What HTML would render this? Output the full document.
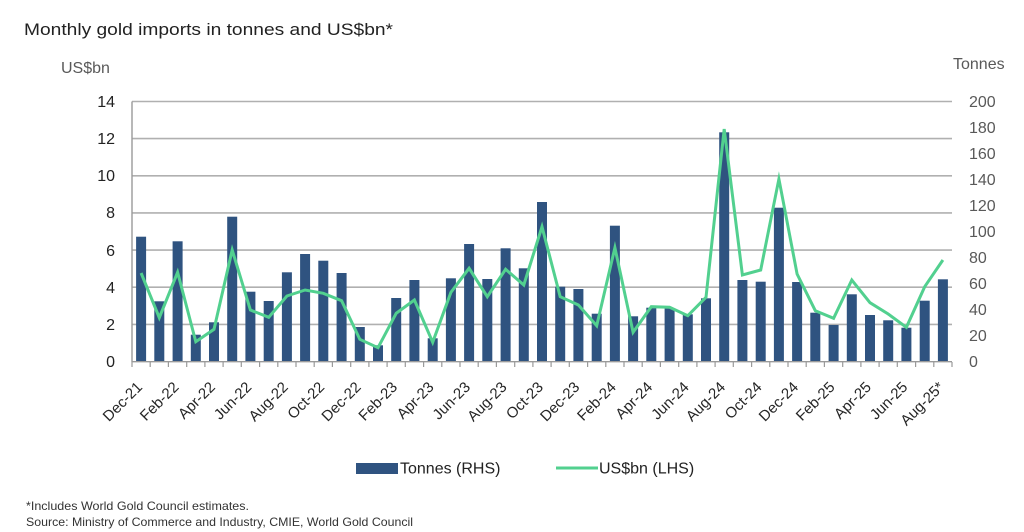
<!DOCTYPE html>
<html>
<head>
<meta charset="utf-8">
<style>
  html, body { margin:0; padding:0; background:#ffffff; }
  svg { display:block; font-family:"Liberation Sans", Arial, sans-serif; }
</style>
</head>
<body>
<svg width="1024" height="532" viewBox="0 0 1024 532" xmlns="http://www.w3.org/2000/svg">
  <rect x="0" y="0" width="1024" height="532" fill="#ffffff"/>

  <!-- Title -->
  <text x="24" y="35" font-size="17" fill="#222222" textLength="369" lengthAdjust="spacingAndGlyphs">Monthly gold imports in tonnes and US$bn*</text>

  <!-- Axis titles -->
  <text x="61" y="73" font-size="16" fill="#595959">US$bn</text>
  <text x="953" y="69" font-size="16" fill="#595959">Tonnes</text>

  <!-- Gridlines -->
  <g stroke="#b0b0b0" stroke-width="1.6">
    <line x1="132" y1="101.5" x2="952" y2="101.5"/>
    <line x1="132" y1="138.6" x2="952" y2="138.6"/>
    <line x1="132" y1="175.8" x2="952" y2="175.8"/>
    <line x1="132" y1="212.9" x2="952" y2="212.9"/>
    <line x1="132" y1="250.1" x2="952" y2="250.1"/>
    <line x1="132" y1="287.2" x2="952" y2="287.2"/>
    <line x1="132" y1="324.4" x2="952" y2="324.4"/>
  </g>

  <!-- Left tick labels -->
  <g font-size="16" fill="#222222" text-anchor="end">
    <text x="115" y="107">14</text>
    <text x="115" y="144">12</text>
    <text x="115" y="181">10</text>
    <text x="115" y="218">8</text>
    <text x="115" y="256">6</text>
    <text x="115" y="293">4</text>
    <text x="115" y="330">2</text>
    <text x="115" y="367">0</text>
  </g>

  <!-- Right tick labels -->
  <g font-size="16" fill="#595959">
    <text x="969" y="107">200</text>
    <text x="969" y="133">180</text>
    <text x="969" y="159">160</text>
    <text x="969" y="185">140</text>
    <text x="969" y="211">120</text>
    <text x="969" y="237">100</text>
    <text x="969" y="263">80</text>
    <text x="969" y="289">60</text>
    <text x="969" y="315">40</text>
    <text x="969" y="341">20</text>
    <text x="969" y="367">0</text>
  </g>

  <!-- Bars -->
  <g fill="#2f5380">
    <rect x="136.1" y="236.7" width="10" height="125.0"/>
    <rect x="154.3" y="301.3" width="10" height="60.4"/>
    <rect x="172.6" y="241.3" width="10" height="120.4"/>
    <rect x="190.8" y="334.7" width="10" height="27.0"/>
    <rect x="209.0" y="322.3" width="10" height="39.4"/>
    <rect x="227.2" y="216.7" width="10" height="145.0"/>
    <rect x="245.4" y="291.7" width="10" height="70.0"/>
    <rect x="263.7" y="301.0" width="10" height="60.7"/>
    <rect x="281.9" y="272.3" width="10" height="89.4"/>
    <rect x="300.1" y="254.0" width="10" height="107.7"/>
    <rect x="318.3" y="260.7" width="10" height="101.0"/>
    <rect x="336.6" y="273.0" width="10" height="88.7"/>
    <rect x="354.8" y="327.0" width="10" height="34.7"/>
    <rect x="373.0" y="345.3" width="10" height="16.4"/>
    <rect x="391.2" y="298.0" width="10" height="63.7"/>
    <rect x="409.4" y="280.0" width="10" height="81.7"/>
    <rect x="427.7" y="338.3" width="10" height="23.4"/>
    <rect x="445.9" y="278.3" width="10" height="83.4"/>
    <rect x="464.1" y="244.0" width="10" height="117.7"/>
    <rect x="482.3" y="279.0" width="10" height="82.7"/>
    <rect x="500.6" y="248.3" width="10" height="113.4"/>
    <rect x="518.8" y="268.3" width="10" height="93.4"/>
    <rect x="537.0" y="202.0" width="10" height="159.7"/>
    <rect x="555.2" y="286.7" width="10" height="75.0"/>
    <rect x="573.4" y="289.0" width="10" height="72.7"/>
    <rect x="591.7" y="313.7" width="10" height="48.0"/>
    <rect x="609.9" y="225.7" width="10" height="136.0"/>
    <rect x="628.1" y="316.3" width="10" height="45.4"/>
    <rect x="646.3" y="307.7" width="10" height="54.0"/>
    <rect x="664.6" y="308.3" width="10" height="53.4"/>
    <rect x="682.8" y="314.3" width="10" height="47.4"/>
    <rect x="701.0" y="298.3" width="10" height="63.4"/>
    <rect x="719.2" y="132.3" width="10" height="229.4"/>
    <rect x="737.4" y="280.0" width="10" height="81.7"/>
    <rect x="755.7" y="281.7" width="10" height="80.0"/>
    <rect x="773.9" y="207.7" width="10" height="154.0"/>
    <rect x="792.1" y="282.0" width="10" height="79.7"/>
    <rect x="810.3" y="312.7" width="10" height="49.0"/>
    <rect x="828.6" y="325.0" width="10" height="36.7"/>
    <rect x="846.8" y="294.3" width="10" height="67.4"/>
    <rect x="865.0" y="315.0" width="10" height="46.7"/>
    <rect x="883.2" y="320.3" width="10" height="41.4"/>
    <rect x="901.4" y="327.7" width="10" height="34.0"/>
    <rect x="919.7" y="300.7" width="10" height="61.0"/>
    <rect x="937.9" y="279.3" width="10" height="82.4"/>
  </g>

  <!-- Axes -->
  <g stroke="#9a9a9a" stroke-width="1.4" fill="none">
    <line x1="132" y1="101.5" x2="132" y2="362"/>
    <line x1="132" y1="361.7" x2="952" y2="361.7"/>
  </g>
  <!-- Tick marks -->
  <g stroke="#9a9a9a" stroke-width="1.2">
    <path d="M132,362v5 M150.2,362v5 M168.4,362v5 M186.7,362v5 M204.9,362v5 M223.1,362v5 M241.3,362v5 M259.6,362v5 M277.8,362v5 M296,362v5 M314.2,362v5 M332.4,362v5 M350.7,362v5 M368.9,362v5 M387.1,362v5 M405.3,362v5 M423.6,362v5 M441.8,362v5 M460,362v5 M478.2,362v5 M496.4,362v5 M514.7,362v5 M532.9,362v5 M551.1,362v5 M569.3,362v5 M587.6,362v5 M605.8,362v5 M624,362v5 M642.2,362v5 M660.4,362v5 M678.7,362v5 M696.9,362v5 M715.1,362v5 M733.3,362v5 M751.6,362v5 M769.8,362v5 M788,362v5 M806.2,362v5 M824.4,362v5 M842.7,362v5 M860.9,362v5 M879.1,362v5 M897.3,362v5 M915.6,362v5 M933.8,362v5 M952,362v5"/>
  </g>

  <!-- Line series -->
  <polyline fill="none" stroke="#52d08f" stroke-width="3" stroke-linejoin="miter" stroke-miterlimit="6"
    points="141.1,273 159.3,317.7 177.6,272.3 195.8,341.7 214,329.3 232.2,250 250.4,310 268.7,317.3 286.9,296 305.1,290 323.3,293.3 341.6,300.7 359.8,339.3 378,347.7 396.2,313.3 414.4,300 432.7,342.3 450.9,292.3 469.1,268.3 487.3,296.7 505.6,269.3 523.8,285 542,226.7 560.2,296.7 578.4,305 596.7,325.7 614.9,247.7 633.1,332.3 651.3,306.7 669.6,307.3 687.8,315.7 706,297.3 724.2,129 742.4,275 760.7,270 778.9,179 797.1,274 815.3,310.7 833.6,318.3 851.8,280 870,302.7 888.2,314 906.4,327.3 924.7,286.7 942.9,260"/>

  <!-- X labels -->
  <g font-size="15" fill="#262626" text-anchor="end">
    <text transform="translate(143.1,388) rotate(-45)">Dec-21</text>
    <text transform="translate(179.6,388) rotate(-45)">Feb-22</text>
    <text transform="translate(216,388) rotate(-45)">Apr-22</text>
    <text transform="translate(252.4,388) rotate(-45)">Jun-22</text>
    <text transform="translate(288.9,388) rotate(-45)">Aug-22</text>
    <text transform="translate(325.3,388) rotate(-45)">Oct-22</text>
    <text transform="translate(361.8,388) rotate(-45)">Dec-22</text>
    <text transform="translate(398.2,388) rotate(-45)">Feb-23</text>
    <text transform="translate(434.7,388) rotate(-45)">Apr-23</text>
    <text transform="translate(471.1,388) rotate(-45)">Jun-23</text>
    <text transform="translate(507.6,388) rotate(-45)">Aug-23</text>
    <text transform="translate(544,388) rotate(-45)">Oct-23</text>
    <text transform="translate(580.4,388) rotate(-45)">Dec-23</text>
    <text transform="translate(616.9,388) rotate(-45)">Feb-24</text>
    <text transform="translate(653.3,388) rotate(-45)">Apr-24</text>
    <text transform="translate(689.8,388) rotate(-45)">Jun-24</text>
    <text transform="translate(726.2,388) rotate(-45)">Aug-24</text>
    <text transform="translate(762.7,388) rotate(-45)">Oct-24</text>
    <text transform="translate(799.1,388) rotate(-45)">Dec-24</text>
    <text transform="translate(835.6,388) rotate(-45)">Feb-25</text>
    <text transform="translate(872,388) rotate(-45)">Apr-25</text>
    <text transform="translate(908.4,388) rotate(-45)">Jun-25</text>
    <text transform="translate(944.9,388) rotate(-45)">Aug-25*</text>
  </g>

  <!-- Legend -->
  <rect x="356" y="463" width="42" height="11" fill="#2f5380"/>
  <text x="400" y="473.5" font-size="16" fill="#222222">Tonnes (RHS)</text>
  <line x1="556" y1="468" x2="598" y2="468" stroke="#52d08f" stroke-width="3"/>
  <text x="599" y="473.5" font-size="16" fill="#222222">US$bn (LHS)</text>

  <!-- Footnotes -->
  <text x="26" y="510" font-size="12" fill="#333333" textLength="223" lengthAdjust="spacingAndGlyphs">*Includes World Gold Council estimates.</text>
  <text x="26" y="526" font-size="12" fill="#333333" textLength="387" lengthAdjust="spacingAndGlyphs">Source: Ministry of Commerce and Industry, CMIE, World Gold Council</text>
</svg>
</body>
</html>
